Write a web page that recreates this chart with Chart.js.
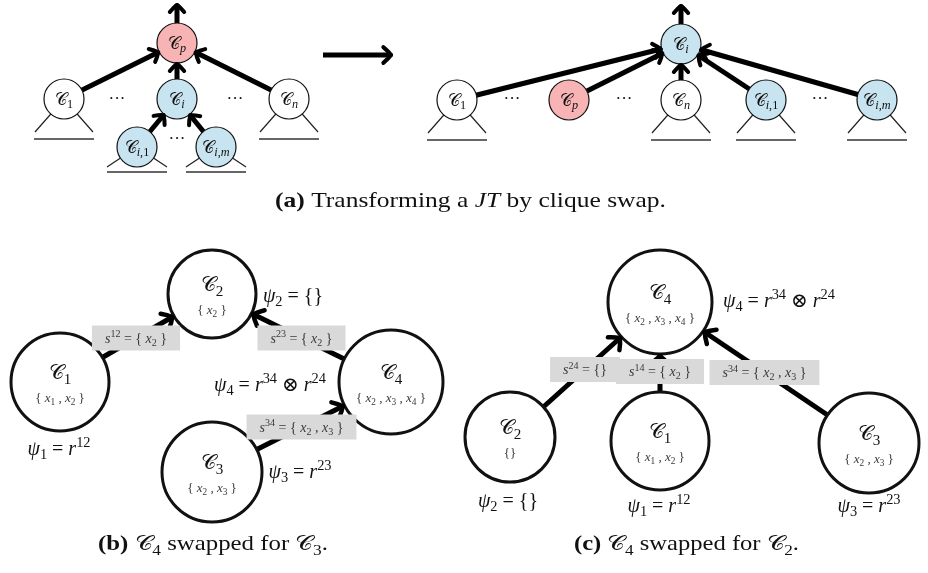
<!DOCTYPE html>
<html><head><meta charset="utf-8">
<script src="https://cdn.jsdelivr.net/npm/chart.js@4.4.0/dist/chart.umd.min.js"></script>
<style>html,body{margin:0;padding:0;background:#fff;}canvas{display:block;}</style>
</head><body>
<canvas id="c" width="928" height="573" style="width:928px;height:573px"></canvas>
<script>
// ---------------- DATA ----------------
const nodeLabel = ['𝒞_p','𝒞_1','𝒞_i','𝒞_n','𝒞_[i,1]','𝒞_[i,m]',
                   '𝒞_i','𝒞_1','𝒞_p','𝒞_n','𝒞_[i,1]','𝒞_[i,m]',
                   '𝒞_1','𝒞_2','𝒞_3','𝒞_4',
                   '𝒞_4','𝒞_2','𝒞_1','𝒞_3'];
const nodeX = [177,64,177,289,137,216, 681,457,569,681,766,877, 60,212,212,391, 660,510,660,869];
const nodeY = [43,99,99,99,147,147, 44,100,100,100,100,100, 382,294,472,382, 302,437,441,443];
const nodeRole = ['p','o','i','o','i','i', 'i','o','p','o','i','i', 'o','o','o','o', 'o','o','o','o'];
const nodeVars = ['','','','','','', '','','','','','',
                  '{ x_1 , x_2 }','{ x_2 }','{ x_2 , x_3 }','{ x_2 , x_3 , x_4 }',
                  '{ x_2 , x_3 , x_4 }','{}','{ x_1 , x_2 }','{ x_2 , x_3 }'];
const edgeFrom = [1,3,2,4,5, 7,8,9,10,11, 12,15,14, 17,18,19];
const edgeTo   = [0,0,0,2,2, 6,6,6,6,6,   13,13,15, 16,16,16];
const edgeSep  = ['','','','','', '','','','','',
                  's^[12] = { x_2 }','s^[23] = { x_2 }','s^[34] = { x_2 , x_3 }',
                  's^[24] = {}','s^[14] = { x_2 }','s^[34] = { x_2 , x_3 }'];
const rootNodes = [0,6];
const treeNodes = [1,3,4,5,7,9,10,11];
const potText = ['ψ_2 = {}','ψ_1 = r^[12]','ψ_4 = r^[34] ⊗ r^[24]','ψ_3 = r^[23]',
                 'ψ_4 = r^[34] ⊗ r^[24]','ψ_2 = {}','ψ_1 = r^[12]','ψ_3 = r^[23]'];
const potX = [293,59,270,300, 779,508,659,869];
const potY = [295,448,384,471, 300,500,505,505];
const dotsX = [117,235,177,512,624,820];
const dotsY = [100,100,140,100,100,100];
const captionA = [['bf','(a)'],['rm',' Transforming a '],['it','JT'],['rm',' by clique swap.']];
const captionB = [['bf','(b)'],['rm',' '],['cal','𝒞'],['sub','4'],['rm',' swapped for '],['cal','𝒞'],['sub','3'],['rm','.']];
const captionC = [['bf','(c)'],['rm',' '],['cal','𝒞'],['sub','4'],['rm',' swapped for '],['cal','𝒞'],['sub','2'],['rm','.']];

// ---------------- STYLE / LAYOUT ----------------
const roleFill = {p:'#F8B4B4', i:'#C8E4F0', o:'#FFFFFF'};
const nodeR = [20,20,20,20,20,20, 20,20,20,20,20,20, 49,44,50,52, 52,45,49,50];
const bigPanel = i => i >= 12;
const treeSmall = new Set([4,5]);
const layout = {
  rootLen: 39,
  flow: {x0:323, x1:391, y:55},
  captions: [{seg:captionA, x0:275, x1:666, y:200},
             {seg:captionB, x0:98, x1:328, y:543},
             {seg:captionC, x0:574, x1:799, y:543}]
};
const FAM = '"Liberation Serif","DejaVu Serif",serif';

// ---------------- HELPERS ----------------
function parseMath(str){
  const c = Array.from(str), out = [];
  for (let i=0;i<c.length;i++){
    const ch=c[i];
    if (ch==='_'||ch==='^'){
      const lvl = ch==='_'?-1:1;
      if (c[i+1]==='['){ let j=i+2; while(c[j]!==']'){ out.push({ch:c[j],lvl}); j++; } i=j; }
      else { out.push({ch:c[i+1],lvl}); i++; }
    } else out.push({ch,lvl:0});
  }
  return out;
}
function styleOf(ch){ if(ch==='𝒞') return 'cal'; if(/[a-zA-Zψ]/.test(ch)) return 'it'; return 'rm'; }
function fontFor(st,size){
  if(st==='cal') return `${size}px "DejaVu Serif","DejaVu Sans",${FAM}`;
  if(st==='it') return `italic ${size}px ${FAM}`;
  if(st==='bf') return `bold ${size}px ${FAM}`;
  return `${size}px ${FAM}`;
}
function layoutMath(ctx,str,size){
  const runs=[];
  for(const it of parseMath(str)){
    const st=styleOf(it.ch), last=runs[runs.length-1];
    if(last && last.st===st && last.lvl===it.lvl) last.t+=it.ch; else runs.push({t:it.ch,st,lvl:it.lvl});
  }
  let w=0;
  for(const r of runs){ r.size=r.lvl?size*0.72:size; ctx.font=fontFor(r.st,r.size); r.w=ctx.measureText(r.t).width; r.x=w; w+=r.w; }
  return {runs,w};
}
function drawMath(ctx,str,cx,cy,size,color){
  const L=layoutMath(ctx,str,size);
  const x0=cx-L.w/2, base=cy+size*0.33;
  ctx.fillStyle=color; ctx.textBaseline='alphabetic'; ctx.textAlign='left';
  for(const r of L.runs){
    ctx.font=fontFor(r.st,r.size);
    const dy=r.lvl<0?size*0.22:(r.lvl>0?-size*0.38:0);
    ctx.fillText(r.t,x0+r.x,base+dy);
  }
  return L.w;
}
function drawCaption(ctx,seg,x0,x1,cy,size){
  const runs=seg.map(([st,t])=>({st:st==='sub'?'rm':st,t,sub:st==='sub'}));
  let w=0;
  for(const r of runs){ r.size=r.sub?size*0.7:size; ctx.font=fontFor(r.st,r.size); r.w=ctx.measureText(r.t).width; r.x=w; w+=r.w; }
  const sx=(x1-x0)/w;
  ctx.save(); ctx.translate(x0,cy+size*0.33); ctx.scale(sx,1);
  ctx.fillStyle='#111'; ctx.textBaseline='alphabetic'; ctx.textAlign='left';
  for(const r of runs){ ctx.font=fontFor(r.st,r.size); ctx.fillText(r.t,r.x,r.sub?size*0.22:0); }
  ctx.restore();
}
function arrowHead(ctx,tx,ty,dx,dy,L,lw){
  const nx=-dy, ny=dx, a=0.8;
  ctx.save(); ctx.strokeStyle='#000'; ctx.lineWidth=lw; ctx.lineCap='round'; ctx.lineJoin='round';
  for(const s of [-1,1]){
    const ex=tx-L*Math.cos(a)*dx+s*L*Math.sin(a)*nx, ey=ty-L*Math.cos(a)*dy+s*L*Math.sin(a)*ny;
    const cx=tx-0.25*L*dx+s*0.35*L*nx, cy=ty-0.25*L*dy+s*0.35*L*ny;
    ctx.beginPath(); ctx.moveTo(ex,ey); ctx.quadraticCurveTo(cx,cy,tx,ty); ctx.stroke();
  }
  ctx.restore();
}

// ---------------- DATASETS ----------------
const datasets=[];
datasets.push({
  order:0, showLine:false, clip:false,
  data: nodeX.map((x,i)=>({x,y:nodeY[i]})),
  pointRadius: nodeR, pointHoverRadius: nodeR,
  pointBackgroundColor: nodeRole.map(r=>roleFill[r]),
  pointBorderColor: '#111',
  pointBorderWidth: nodeR.map((r,i)=>bigPanel(i)?3:1.2)
});
edgeFrom.forEach((f,k)=>{
  const t=edgeTo[k];
  datasets.push({order:2, showLine:true, clip:false, pointRadius:0, borderColor:'#000', borderWidth:5,
    data:[{x:nodeX[f],y:nodeY[f]},{x:nodeX[t],y:nodeY[t]}]});
});
rootNodes.forEach(n=>{
  datasets.push({order:2, showLine:true, clip:false, pointRadius:0, borderColor:'#000', borderWidth:5,
    data:[{x:nodeX[n],y:nodeY[n]},{x:nodeX[n],y:nodeY[n]-layout.rootLen}]});
});
datasets.push({order:2, showLine:true, clip:false, pointRadius:0, borderColor:'#000', borderWidth:5,
  data:[{x:layout.flow.x0,y:layout.flow.y},{x:layout.flow.x1-2,y:layout.flow.y}]});
treeNodes.forEach(n=>{
  const sm=treeSmall.has(n), lx=sm?30:29, ly=sm?20:33, uy=sm?25:40;
  datasets.push({order:1, showLine:true, clip:false, pointRadius:0, borderColor:'#222', borderWidth:1.2,
    data:[{x:nodeX[n]-lx,y:nodeY[n]+ly},{x:nodeX[n],y:nodeY[n]},{x:nodeX[n]+lx,y:nodeY[n]+ly}]});
  datasets.push({order:1, showLine:true, clip:false, pointRadius:0, borderColor:'#333', borderWidth:1.5,
    data:[{x:nodeX[n]-30,y:nodeY[n]+uy},{x:nodeX[n]+30,y:nodeY[n]+uy}]});
});

// ---------------- PLUGINS ----------------
const bg={id:'bg',beforeDraw(c){const x=c.ctx;x.save();x.fillStyle='#fff';x.fillRect(0,0,c.width,c.height);x.restore();}};
const diagram={id:'diagram',afterDatasetsDraw(chart){
  const ctx=chart.ctx, X=v=>chart.scales.x.getPixelForValue(v), Y=v=>chart.scales.y.getPixelForValue(v);
  edgeFrom.forEach((f,k)=>{
    const t=edgeTo[k];
    let dx=X(nodeX[t])-X(nodeX[f]), dy=Y(nodeY[t])-Y(nodeY[f]); const d=Math.hypot(dx,dy); dx/=d; dy/=d;
    const big=bigPanel(t), rr=nodeR[t]+(big?2:1);
    arrowHead(ctx,X(nodeX[t])-rr*dx,Y(nodeY[t])-rr*dy,dx,dy,big?12:10,big?4.5:4);
  });
  rootNodes.forEach(n=>arrowHead(ctx,X(nodeX[n]),Y(nodeY[n]-layout.rootLen)+1,0,-1,10,4));
  arrowHead(ctx,X(layout.flow.x1),Y(layout.flow.y),1,0,11,4);
  edgeSep.forEach((s,k)=>{
    if(!s) return;
    const f=edgeFrom[k],t=edgeTo[k];
    const mx=(X(nodeX[f])+X(nodeX[t]))/2, my=(Y(nodeY[f])+Y(nodeY[t]))/2;
    const L=layoutMath(ctx,s,14), w=L.w+26, h=25;
    ctx.fillStyle='#D9D9D9'; ctx.fillRect(mx-w/2,my-h/2,w,h);
    drawMath(ctx,s,mx,my,14,'#3a3a3a');
  });
  nodeLabel.forEach((s,i)=>{
    if(bigPanel(i)){
      drawMath(ctx,s,X(nodeX[i]),Y(nodeY[i])-10,21,'#111');
      drawMath(ctx,nodeVars[i],X(nodeX[i]),Y(nodeY[i])+16,13,'#3a3a3a');
    } else drawMath(ctx,s,X(nodeX[i]),Y(nodeY[i]),17,'#111');
  });
  potText.forEach((s,i)=>drawMath(ctx,s,X(potX[i]),Y(potY[i]),20,'#111'));
  dotsX.forEach((x,i)=>{ctx.font=`17px ${FAM}`;ctx.fillStyle='#111';ctx.textAlign='center';ctx.textBaseline='middle';ctx.fillText('···',X(x),Y(dotsY[i]));});
  layout.captions.forEach(c=>drawCaption(ctx,c.seg,c.x0,c.x1,c.y,21));
}};

new Chart(document.getElementById('c'),{
  type:'scatter',
  data:{datasets},
  options:{
    responsive:false, animation:false, devicePixelRatio:1, events:[],
    layout:{padding:0, autoPadding:false},
    plugins:{legend:{display:false},tooltip:{enabled:false}},
    scales:{x:{type:'linear',min:0,max:928,display:false},y:{type:'linear',min:0,max:573,reverse:true,display:false}}
  },
  plugins:[bg,diagram]
});
</script></body></html>
